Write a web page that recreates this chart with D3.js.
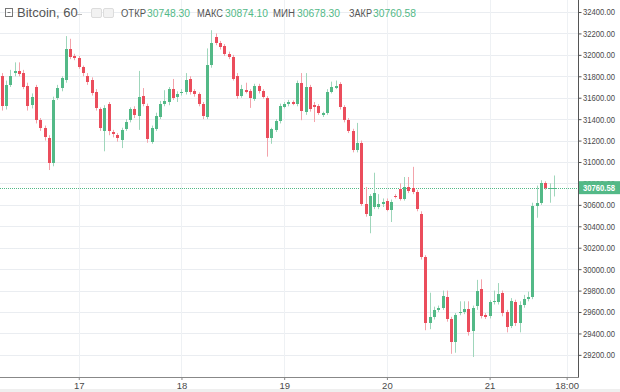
<!DOCTYPE html>
<html><head><meta charset="utf-8">
<script src="https://cdn.jsdelivr.net/npm/d3@7"></script>
<style>html,body{margin:0;padding:0;background:#fff;}svg{display:block;}</style>
</head><body>
<svg id="chart" width="620" height="392"></svg>
<script>
// ---- DATA (hourly candles, Bitcoin 60, from 16th 06:00) ----
const symbolTitle = "Bitcoin, 60";
const startHour = 6; // hours after 16th 00:00
const openVals = [
31800,31525,31720,31830,31850,31830,31710,31530,31700,31390,
31320,31225,30990,31600,31690,31765,32055,31990,31970,31890,
31800,31765,31655,31495,31290,31540,31280,31250,31205,31310,
31390,31495,31430,31615,31525,31190,31310,31420,31540,31560,
31680,31605,31640,31655,31775,31660,31635,31540,31420,31905,
32165,32110,32085,32010,31980,31800,31615,31675,31660,31590,
31710,31665,31595,31225,31300,31385,31515,31540,31560,31545,
31735,31465,31700,31530,31520,31440,31455,31655,31695,31725,
31515,31390,31290,31110,31180,30610,30495,30580,30580,30610,
30640,30555,30685,30750,30655,30765,30755,30720,30515,30115,
29500,29555,29620,29640,29740,29535,29320,29590,29600,29630,
29420,29660,29815,29570,29560,29690,29690,29780,29600,29470,
29695,29500,29665,29720,29740,30590,30620,30805,30750,30748.30];
const highVals = [
31830,31760,31860,31930,31930,31860,31740,31640,31720,31410,
31340,31250,31610,31720,31800,32175,32150,32010,31990,31900,
31830,31790,31680,31510,31530,31560,31300,31270,31320,31400,
31510,31520,31850,31690,31545,31340,31460,31570,31670,31700,
31775,31660,31680,31830,31800,31680,31650,31560,32060,32230,
32200,32130,32100,32030,32000,31830,31720,31740,31680,31730,
31730,31680,31615,31320,31400,31545,31560,31580,31575,31760,
31830,31830,31720,31560,31540,31470,31680,31750,31760,31745,
31530,31410,31310,31365,31200,30767,30700,30900,30700,30660,
30660,30650,30700,30800,30860,30860,30955,30740,30540,30130,
29780,29650,29660,29800,29800,29555,29590,29700,29700,29700,
29660,29900,29905,29590,29710,29800,29870,29800,29620,29730,
29715,29700,29760,29790,30620,30780,30830,30820,30800,30874.10];
const lowVals = [
31480,31490,31700,31800,31800,31680,31480,31500,31360,31290,
31200,30925,30960,31580,31660,31740,31960,31950,31870,31800,
31720,31620,31480,31290,31100,31250,31230,31190,31130,31290,
31370,31410,31300,31520,31180,31170,31290,31400,31520,31530,
31580,31560,31620,31630,31630,31610,31520,31400,31400,31880,
32090,32050,31990,31960,31760,31590,31600,31640,31505,31570,
31640,31590,31050,31170,31280,31360,31500,31520,31530,31520,
31390,31440,31470,31373,31440,31420,31440,31640,31680,31490,
31370,31270,31090,31090,30590,30490,30335,30560,30560,30580,
30540,30440,30660,30640,30640,30710,30700,30540,30090,29430,
29440,29530,29600,29620,29510,29210,29220,29570,29580,29380,
29180,29620,29540,29535,29540,29670,29670,29560,29410,29450,
29470,29410,29640,29700,29720,30480,30600,30740,30620,30678.30];
const closeVals = [
31525,31720,31800,31850,31825,31700,31520,31605,31390,31320,
31235,30990,31580,31690,31785,32055,31980,31970,31890,31830,
31745,31645,31505,31315,31505,31290,31260,31225,31300,31375,
31495,31440,31605,31540,31215,31315,31430,31540,31570,31680,
31600,31635,31655,31765,31655,31635,31540,31430,31905,32110,
32110,32075,32010,31980,31775,31615,31680,31655,31600,31710,
31665,31605,31225,31310,31385,31525,31540,31560,31545,31735,
31475,31700,31495,31515,31460,31455,31655,31700,31710,31515,
31390,31290,31110,31180,30610,30515,30685,30715,30610,30630,
30555,30630,30675,30655,30765,30730,30720,30560,30115,29500,
29555,29620,29640,29750,29535,29320,29570,29600,29630,29415,
29640,29800,29560,29555,29690,29700,29765,29590,29460,29705,
29500,29665,29720,29740,30590,30620,30805,30760,30760,30760.58];
const priceTicks = [29200,29400,29600,29800,30000,30200,30400,30600,30800,31000,31200,31400,31600,31800,32000,32200,32400];
const dayTickHours = [24,48,72,96,120]; // hours after 16th 00:00
const dayTickLabels = ["17","18","19","20","21"];
const timeTickHour = 138;
const timeTickLabel = "18:00";
const legendLabels = ["ОТКР","МАКС","МИН","ЗАКР"];
const lastPrice = 30760.58;

// ---- LAYOUT ----
const W = 620, H = 392;
const plotRight = 578, plotBottom = 377;
const up = "#53b987", down = "#eb4d5c";
const upWick = "#9fd6bb", downWick = "#f3a3ab";
const FONT = "Liberation Sans, Arial, sans-serif";
const base = Date.UTC(2021,6,16,0);
const hr = 3600000;
const toDate = h => new Date(base + h*hr);

const svg = d3.select("#chart");
svg.append("rect").attr("width",W).attr("height",H).attr("fill","#fff");
svg.append("rect").attr("x",0).attr("y",389).attr("width",W).attr("height",3).attr("fill","#efefef");

const x = d3.scaleUtc().domain([toDate(5.6), toDate(140.65)]).range([0, plotRight]);
const y = d3.scaleLinear().domain([28993.5, 32512]).range([plotBottom, 0]);

const candles = openVals.map((o,i)=>({t:toDate(startHour+i), o, h:highVals[i], l:lowVals[i], c:closeVals[i]}));

// grid
const g = svg.append("g");
g.selectAll("line.hg").data(priceTicks).join("line")
  .attr("x1",0).attr("x2",plotRight)
  .attr("y1",d=>Math.round(y(d))+0.5).attr("y2",d=>Math.round(y(d))+0.5)
  .attr("stroke","#eaedf1").attr("stroke-width",1);
const vHours = dayTickHours.concat([timeTickHour]);
g.selectAll("line.vg").data(vHours).join("line")
  .attr("x1",d=>Math.round(x(toDate(d)))+0.5).attr("x2",d=>Math.round(x(toDate(d)))+0.5)
  .attr("y1",0).attr("y2",plotBottom)
  .attr("stroke","#eef1f4").attr("stroke-width",1);

// price line (dotted)
svg.append("line").attr("x1",0).attr("x2",plotRight)
  .attr("y1",Math.round(y(lastPrice))+0.5).attr("y2",Math.round(y(lastPrice))+0.5)
  .attr("stroke",up).attr("stroke-width",1).attr("stroke-dasharray","1,1");

// candles
const cg = svg.append("g");
cg.selectAll("line.wick").data(candles).join("line")
  .attr("x1",d=>Math.round(x(d.t))+0.5).attr("x2",d=>Math.round(x(d.t))+0.5)
  .attr("y1",d=>y(d.h)).attr("y2",d=>y(d.l))
  .attr("stroke",d=>d.c>=d.o?upWick:downWick).attr("stroke-width",1);
cg.selectAll("rect.body").data(candles).join("rect")
  .attr("x",d=>Math.round(x(d.t))-1).attr("width",3)
  .attr("y",d=>Math.round(y(Math.max(d.o,d.c))))
  .attr("height",d=>Math.max(1,Math.round(y(Math.min(d.o,d.c)))-Math.round(y(Math.max(d.o,d.c)))))
  .attr("fill",d=>d.c>=d.o?up:down);

// right axis
const ra = svg.append("g").attr("transform",`translate(${plotRight},0)`);
ra.append("line").attr("x1",0.5).attr("x2",0.5).attr("y1",0).attr("y2",plotBottom+1).attr("stroke","#555").attr("stroke-width",1);
const yAxis = d3.axisRight(y).tickValues(priceTicks).tickSize(3).tickPadding(2).tickFormat(d3.format(".2f"));
const yAx = ra.append("g").call(yAxis);
yAx.select(".domain").remove();
yAx.selectAll("line").attr("stroke","#555").attr("transform","translate(0.5,0)");
yAx.selectAll("text").attr("fill","#4a4a4a").attr("font-family",FONT).attr("font-size","9px")
  .attr("textLength",32).attr("lengthAdjust","spacingAndGlyphs");

// bottom axis
const ba = svg.append("g").attr("transform",`translate(0,${plotBottom})`);
ba.append("line").attr("x1",0).attr("x2",plotRight+1).attr("y1",0.5).attr("y2",0.5).attr("stroke","#888");
const xTickDates = vHours.map(toDate);
const xLabels = dayTickLabels.concat([timeTickLabel]);
const xAxis = d3.axisBottom(x).tickValues(xTickDates).tickSize(3).tickPadding(2)
  .tickFormat((d,i)=>xLabels[i]);
const xAx = ba.append("g").call(xAxis);
xAx.select(".domain").remove();
xAx.selectAll("line").attr("stroke","#888");
xAx.selectAll("text").attr("fill","#4a4a4a").attr("font-family",FONT).attr("font-size","9.5px");

// last price label
const ly = y(lastPrice);
svg.append("rect").attr("x",plotRight+1).attr("y",ly-6.5).attr("width",W-plotRight-1).attr("height",13).attr("fill",up);
svg.append("text").attr("x",plotRight+5).attr("y",ly+3.3).attr("fill","#fff")
  .attr("font-family",FONT).attr("font-size","9px").attr("font-weight","bold")
  .attr("textLength",32).attr("lengthAdjust","spacingAndGlyphs")
  .text(d3.format(".2f")(lastPrice));

// header legend
const hd = svg.append("g");
hd.append("rect").attr("x",5.5).attr("y",8.5).attr("width",7).attr("height",8).attr("fill","none").attr("stroke","#777");
hd.append("line").attr("x1",7.5).attr("x2",10.5).attr("y1",12.5).attr("y2",12.5).attr("stroke","#777");
hd.append("text").attr("x",17).attr("y",17).attr("fill","#555").attr("font-family",FONT).attr("font-size","13px").text(symbolTitle);
hd.append("line").attr("x1",77).attr("x2",82).attr("y1",14.5).attr("y2",14.5).attr("stroke","#bbb");
hd.append("rect").attr("x",91.5).attr("y",8.5).attr("width",10).attr("height",9).attr("rx",1.5).attr("fill","#f2f2f2").attr("stroke","#dcdcdc");
hd.append("rect").attr("x",103.5).attr("y",8.5).attr("width",10).attr("height",9).attr("rx",1.5).attr("fill","#f2f2f2").attr("stroke","#dcdcdc");
const legVals = [openVals[openVals.length-1], highVals[highVals.length-1], lowVals[lowVals.length-1], closeVals[closeVals.length-1]];
const labX = [121, 197, 273, 349];
const labW = [25, 26, 22, 23];
const valX = [147, 225, 297, 373];
legendLabels.forEach((lab,i)=>{
  hd.append("text").attr("x",labX[i]).attr("y",17).attr("fill","#555").attr("font-family",FONT).attr("font-size","10px")
    .attr("textLength",labW[i]).attr("lengthAdjust","spacingAndGlyphs").text(lab);
  hd.append("text").attr("x",valX[i]).attr("y",17).attr("fill",up).attr("font-family",FONT).attr("font-size","11px")
    .attr("textLength",43).attr("lengthAdjust","spacingAndGlyphs").text(d3.format(".2f")(legVals[i]));
});
</script>
</body></html>
